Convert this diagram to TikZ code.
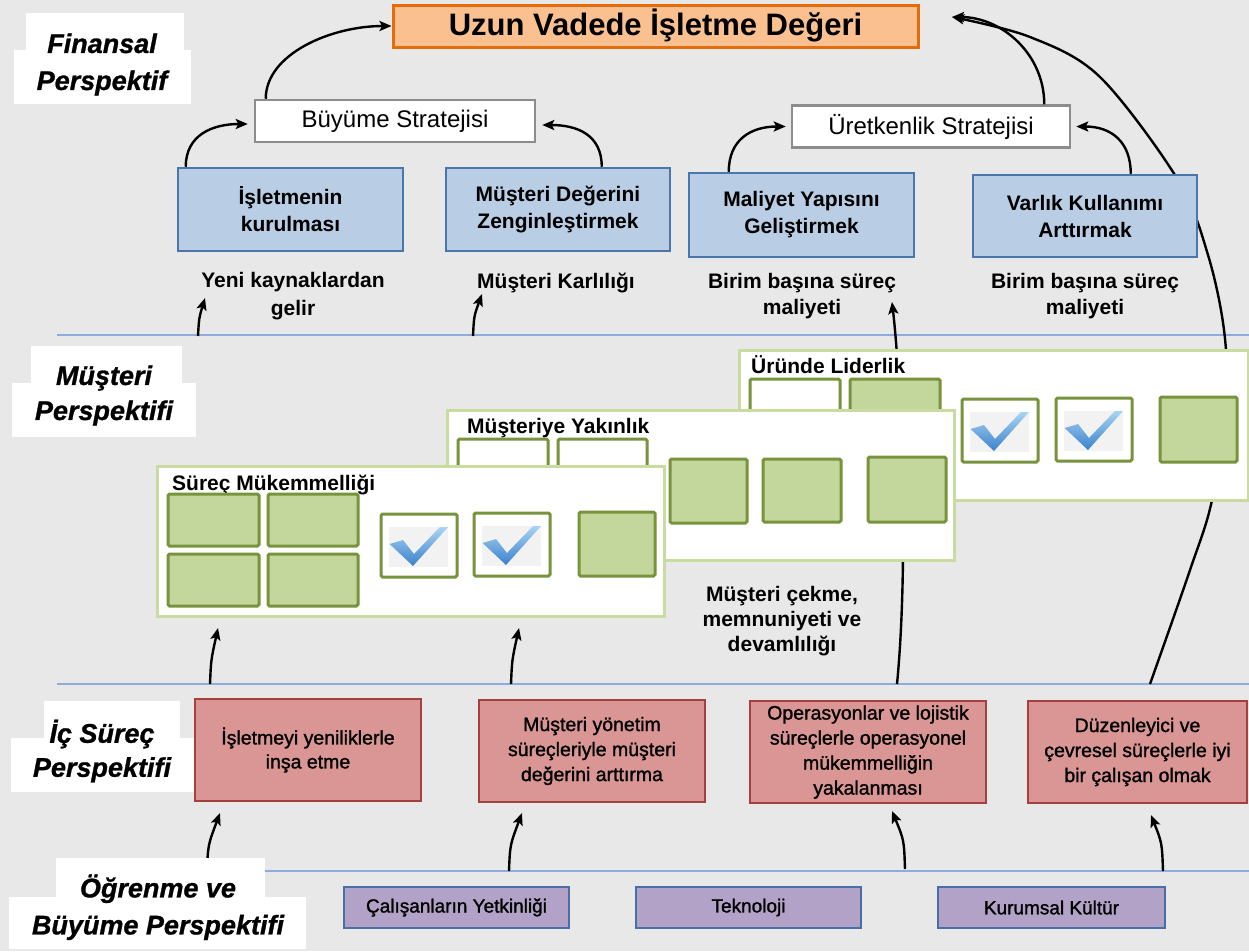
\documentclass[tikz,border=0pt]{standalone}
\usepackage{fontspec}
\setmainfont{Liberation Sans}
\newfontfamily\semib{Liberation Sans}[FakeBold=1.3]
\newfontfamily\heavyit{Liberation Sans}[FakeBold=1.0]
\usetikzlibrary{arrows.meta,calc}
\definecolor{bg}{HTML}{E8E8E8}
\definecolor{lineblue}{HTML}{8FAADC}
\definecolor{orfill}{HTML}{FAC090}
\definecolor{orbd}{HTML}{E46C0A}
\definecolor{grbd}{HTML}{8C8C8C}
\definecolor{blfill}{HTML}{B9CDE5}
\definecolor{blbd}{HTML}{4A76AD}
\definecolor{pkfill}{HTML}{D99694}
\definecolor{pkbd}{HTML}{A4403D}
\definecolor{ppfill}{HTML}{B3A2C7}
\definecolor{ppbd}{HTML}{4A6FA8}
\definecolor{gfill}{HTML}{C3D69B}
\definecolor{gbd}{HTML}{77933C}
\definecolor{panelbd}{HTML}{C8DCA2}
\definecolor{chkbg}{HTML}{F2F2F2}
\definecolor{chkl}{HTML}{A8D4F2}
\definecolor{chkd}{HTML}{3B82CC}
\newcommand\chkmark[2]{%
  \begin{scope}[shift={(#1,#2)}]
    \draw[gboxw] (0,0) rectangle (76,63);
    \fill[chkbg] (8,13) rectangle (67,53);
    \shade[top color=chkl, bottom color=chkd] (8.6,30) -- (22,26) -- (33,40) -- (59,13) -- (67,13) -- (32,52) -- cycle;
  \end{scope}}
\begin{document}
\begin{tikzpicture}[x=1pt,y=-1pt,
  arr/.style={line width=2.4pt, -{Stealth[length=12pt,width=10pt,inset=2.5pt]}},
  sepline/.style={draw=lineblue, line width=2pt},
  titlebox/.style={draw=orbd, fill=orfill, line width=3pt, minimum width=525pt, minimum height=42pt, inner sep=0pt, font=\fontsize{31}{31}\selectfont\bfseries},
  stratbox/.style={draw=grbd, fill=white, line width=2.5pt, minimum height=42pt, inner sep=0pt, font=\fontsize{24}{24}\selectfont},
  bluebox/.style={draw=blbd, fill=blfill, line width=2.5pt, minimum width=225pt, minimum height=83pt, inner sep=0pt, align=center, font=\fontsize{21}{27}\selectfont\bfseries},
  lbl/.style={inner sep=0pt, align=center, font=\fontsize{21}{28}\selectfont\bfseries},
  pinkbox/.style={draw=pkbd, fill=pkfill, line width=2.5pt, minimum height=102pt, inner sep=0pt, align=center, font=\semib\fontsize{19.5}{25}\selectfont},
  ppbox/.style={draw=ppbd, fill=ppfill, line width=2.5pt, minimum height=41pt, minimum width=225pt, inner sep=0pt, font=\semib\fontsize{19}{19}\selectfont},
  plabel/.style={inner sep=0pt, align=center},
  panel/.style={draw=panelbd, fill=white, line width=3pt, inner sep=0pt},
  ptitle/.style={inner sep=0pt, anchor=base west, font=\fontsize{21}{21}\selectfont\bfseries},
  gbox/.style={draw=gbd, fill=gfill, line width=3pt, rounded corners=1.5pt},
  gboxw/.style={draw=gbd, fill=white, line width=3pt, rounded corners=1.5pt}
]
\useasboundingbox (0,0) rectangle (1249,951);
\fill[bg] (0,0) rectangle (1249,951);

% separator lines
\draw[sepline] (57,335) -- (1249,335);
\draw[sepline] (57,684) -- (1249,684);
\draw[sepline] (57,871) -- (1249,871);

% free-end coordinates
\coordinate (vt) at (952,17);
\coordinate (a1s) at (198,336); \coordinate (a1e) at (205,298);
\coordinate (a2s) at (473,336); \coordinate (a2e) at (482,294);
\coordinate (a3s) at (210,684); \coordinate (a3e) at (218,628);
\coordinate (a4s) at (511,684); \coordinate (a4e) at (519,628);
\coordinate (a5s) at (207,871); \coordinate (a5e) at (220,813);
\coordinate (a6s) at (509,871); \coordinate (a6e) at (522,813);
\coordinate (a7s) at (905,869); \coordinate (a7e) at (892,811);
\coordinate (a8s) at (1163,871); \coordinate (a8e) at (1151,815);
\coordinate (lgs) at (897,684); \coordinate (lge) at (892,302);

% long curves (behind panels and boxes)
\draw[arr] plot[smooth, tension=0.55] coordinates {(1150,684) (1190,570) (1212,500) (1226,400) (1224,330) (1208,255) (1178,180) (1100,77) (1030,37) (952,17)};
\draw[arr] (lgs) .. controls (909,560) and (901,380) .. (lge);

% short arrows
\draw[arr] (a1s) .. controls (199,318) .. (a1e);
\draw[arr] (a2s) .. controls (474,316) .. (a2e);
\draw[arr] (a3s) .. controls (211,660) .. (a3e);
\draw[arr] (a4s) .. controls (512,660) .. (a4e);
\draw[arr] (a5s) .. controls (208,845) .. (a5e);
\draw[arr] (a6s) .. controls (510,845) .. (a6e);
\draw[arr] (a7s) .. controls (904,840) .. (a7e);
\draw[arr] (a8s) .. controls (1162,843) .. (a8e);

% perspective labels
\fill[white] (26,13) rectangle (184,50);
\fill[white] (14,50) rectangle (191,104);
\node[plabel, font=\heavyit\fontsize{27}{37}\selectfont\bfseries\itshape] (pfin) at (102,64.5) {Finansal\\Perspektif};
\fill[white] (31,346) rectangle (182,383);
\fill[white] (12,383) rectangle (196,437);
\node[plabel, font=\heavyit\fontsize{27}{35}\selectfont\bfseries\itshape] (pmus) at (104,395.5) {Müşteri\\Perspektifi};
\fill[white] (44,701) rectangle (180,738);
\fill[white] (11,738) rectangle (195,792);
\node[plabel, font=\heavyit\fontsize{27}{34}\selectfont\bfseries\itshape] (pic) at (102,751) {İç Süreç\\Perspektifi};
\fill[white] (56,858) rectangle (265,897);
\fill[white] (9,897) rectangle (306,949);
\node[plabel, font=\heavyit\fontsize{27}{37}\selectfont\bfseries\itshape] (pog) at (158,907.2) {Öğrenme ve\\Büyüme Perspektifi};

% panel 3: Üründe Liderlik
\node[panel, minimum width=509pt, minimum height=150pt] (pl3) at (993.5,425) {};
\node[ptitle] (pt3) at (751,373) {Üründe Liderlik};
\draw[gboxw] (750,379) rectangle (840,431);
\draw[gbox] (850,379) rectangle (940,431);
\chkmark{962}{399}
\chkmark{1056}{398}
\draw[gbox] (1160,397) rectangle (1237,462);

% panel 2: Müşteriye Yakınlık
\node[panel, minimum width=507pt, minimum height=150pt] (pl2) at (700.5,485) {};
\node[ptitle] (pt2) at (467,433) {Müşteriye Yakınlık};
\draw[gboxw] (458,439) rectangle (548,491);
\draw[gboxw] (558,439) rectangle (647,491);
\draw[gbox] (670,459) rectangle (747,523);
\draw[gbox] (763,459) rectangle (841,522);
\draw[gbox] (868,457) rectangle (946,522);

% panel 1: Süreç Mükemmelliği
\node[panel, minimum width=507pt, minimum height=150pt] (pl1) at (410.5,541) {};
\node[ptitle] (pt1) at (172,490) {Süreç Mükemmelliği};
\draw[gbox] (168,494) rectangle (259,546);
\draw[gbox] (268,494) rectangle (358,546);
\draw[gbox] (168,554) rectangle (259,606);
\draw[gbox] (268,554) rectangle (358,606);
\chkmark{381}{514}
\chkmark{474}{513}
\draw[gbox] (579,512) rectangle (655,576);

% financial boxes
\node[titlebox] (title) at (655.5,26) {Uzun Vadede İşletme Değeri};
\node[stratbox, minimum width=280pt] (bs) at (395,121) {Büyüme Stratejisi};
\node[stratbox, minimum width=278pt] (us) at (931,126.5) {Üretkenlik Stratejisi};
\node[bluebox] (b1) at (290.5,209.5) {İşletmenin\\kurulması};
\node[bluebox, minimum width=224pt] (b2) at (558,209.5) {Müşteri Değerini\\Zenginleştirmek};
\node[bluebox, minimum height=84pt] (b3) at (801.5,215) {Maliyet Yapısını\\Geliştirmek};
\node[bluebox, minimum width=224pt, minimum height=82pt] (b4) at (1085,216) {Varlık Kullanımı\\Arttırmak};

\node[lbl] (t1) at (293,296.5) {Yeni kaynaklardan\\gelir};
\node[lbl, anchor=base] (t2) at (556,288) {Müşteri Karlılığı};
\node[lbl, font=\fontsize{21}{26}\selectfont\bfseries] (t3) at (802,296.5) {Birim başına süreç\\maliyeti};
\node[lbl, font=\fontsize{21}{26}\selectfont\bfseries] (t4) at (1085,296.5) {Birim başına süreç\\maliyeti};
\node[lbl, font=\fontsize{21}{25}\selectfont\bfseries] (t5) at (782,621.5) {Müşteri çekme,\\memnuniyeti ve\\devamlılığı};

% strategy arrows
\draw[arr] ($(bs.north west)+(12,0)$) .. controls +(0,-45) and +(-60,0) .. (title.west);
\draw[arr] ($(b1.north west)+(9,0)$) .. controls +(0,-32) and +(-35,0) .. ($(bs.west)+(-6,3)$);
\draw[arr] ($(b2.north west)+(157,0)$) .. controls +(0,-32) and +(35,0) .. ($(bs.east)+(6,4)$);
\draw[arr] ($(b3.north west)+(41,0)$) .. controls +(0,-32) and +(-35,0) .. ($(us.west)+(-5,0)$);
\draw[arr] ($(b4.north west)+(159,0)$) .. controls +(0,-32) and +(35,0) .. ($(us.east)+(5,0)$);
\draw[arr] ($(us.north east)+(-27,0)$) .. controls +(0,-50) and +(50,0) .. (vt);

% internal process boxes
\node[pinkbox, minimum width=226pt, font=\semib\fontsize{19.5}{24}\selectfont] (p1) at (308,750) {İşletmeyi yeniliklerle\\inşa etme};
\node[pinkbox, minimum width=226pt] (p2) at (592,751) {Müşteri yönetim\\süreçleriyle müşteri\\değerini arttırma};
\node[pinkbox, minimum width=236pt] (p3) at (868,752) {Operasyonlar ve lojistik\\süreçlerle operasyonel\\mükemmelliğin\\yakalanması};
\node[pinkbox, minimum width=219pt] (p4) at (1137.5,752) {Düzenleyici ve\\çevresel süreçlerle iyi\\bir çalışan olmak};

% learning boxes
\node[ppbox] (q1) at (456.5,907.5) {Çalışanların Yetkinliği};
\node[ppbox] (q2) at (748.5,907.5) {Teknoloji};
\node[ppbox, minimum width=227pt] (q3) at (1051.5,907.5) {Kurumsal Kültür};
\end{tikzpicture}
\end{document}
